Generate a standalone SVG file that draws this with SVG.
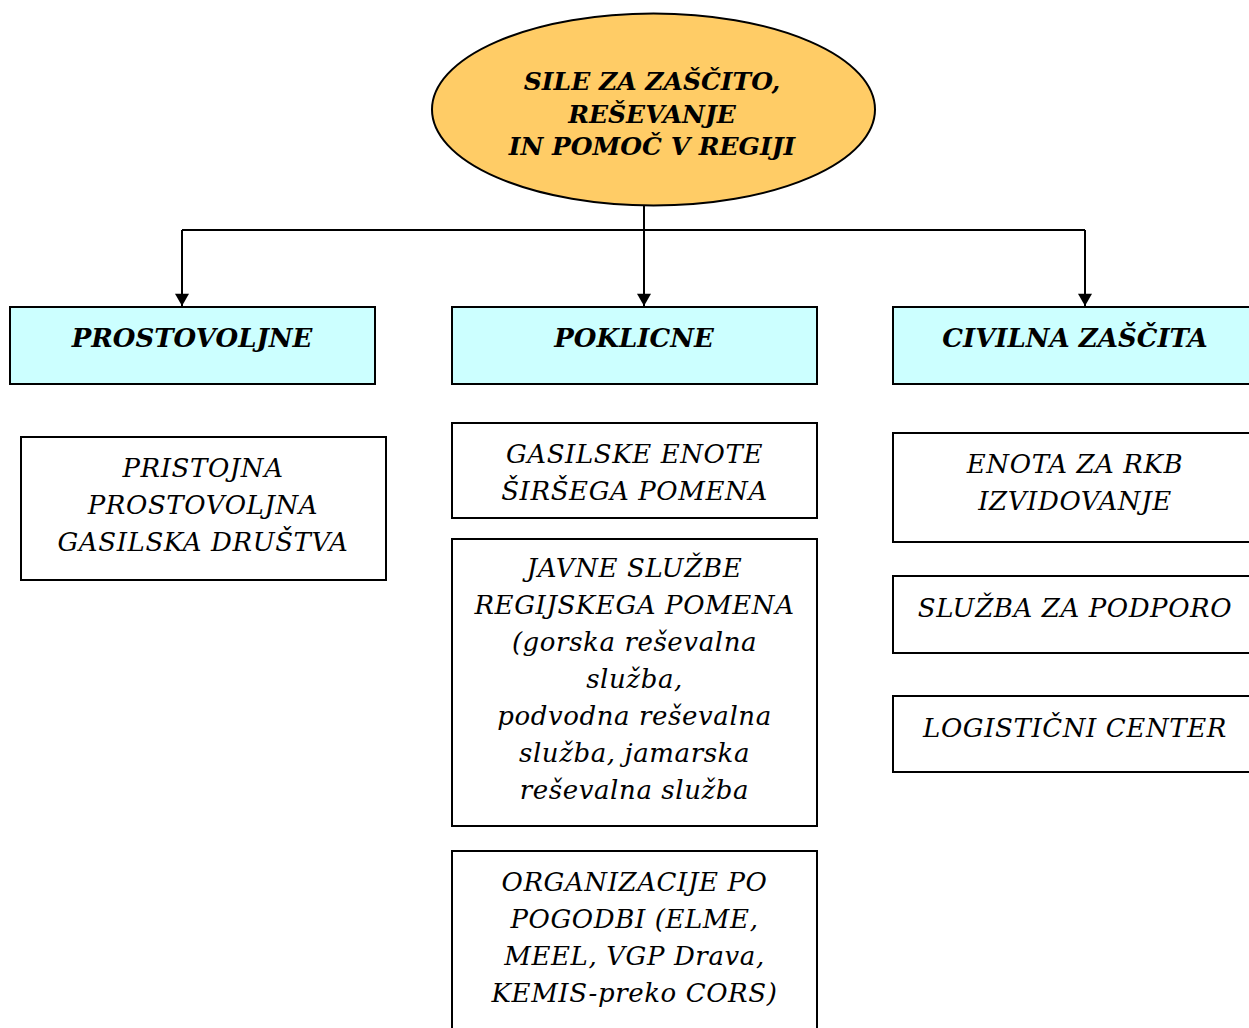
<svg xmlns="http://www.w3.org/2000/svg" width="1249" height="1028" viewBox="0 0 1249 1028">
<style>
.box{fill:#fff;stroke:#000;stroke-width:2}
.hdr{fill:#ccffff;stroke:#000;stroke-width:2}
text{font-family:"DejaVu Serif",serif;font-style:italic;font-size:26px;letter-spacing:0.6px;text-anchor:middle;fill:#000}
.b{font-weight:bold;font-size:26px;letter-spacing:0}
.e{font-size:25px}
.ln{fill:none;stroke:#000;stroke-width:2}
</style>
<defs>
<marker id="arr" viewBox="0 0 14 16" refX="14" refY="8" markerWidth="16" markerHeight="14" markerUnits="userSpaceOnUse" orient="auto">
<path d="M0,0 L14,8 L0,16 z" fill="#000"/>
</marker>
</defs>
<rect width="1249" height="1028" fill="#fff"/>
<g id="connectors">
<path class="ln" d="M644,206 V306" marker-end="url(#arr)"/>
<path class="ln" d="M182,230 H1085"/>
<path class="ln" d="M182,230 V306" marker-end="url(#arr)"/>
<path class="ln" d="M1085,230 V306" marker-end="url(#arr)"/>
</g>
<g id="root">
<ellipse cx="653.5" cy="109.5" rx="221.5" ry="96" fill="#ffcc66" stroke="#000" stroke-width="2"/>
<text class="b e" x="652" y="90">SILE ZA ZAŠČITO,</text>
<text class="b e" x="652" y="123">REŠEVANJE</text>
<text class="b e" x="652" y="155">IN POMOČ V REGIJI</text>
</g>
<g id="prostovoljne">
<rect class="hdr" x="10" y="307" width="365" height="77"/>
<text class="b" x="192" y="347">PROSTOVOLJNE</text>
</g>
<g id="poklicne">
<rect class="hdr" x="452" y="307" width="365" height="77"/>
<text class="b" x="634" y="347">POKLICNE</text>
</g>
<g id="civilna">
<rect class="hdr" x="893" y="307" width="365" height="77"/>
<text class="b" x="1075" y="347">CIVILNA ZAŠČITA</text>
</g>
<g id="pristojna">
<rect class="box" x="21" y="437" width="365" height="143"/>
<text x="203" y="477">PRISTOJNA</text>
<text x="203" y="514">PROSTOVOLJNA</text>
<text x="203" y="551">GASILSKA DRUŠTVA</text>
</g>
<g id="gasilske">
<rect class="box" x="452" y="423" width="365" height="95"/>
<text x="634.5" y="463">GASILSKE ENOTE</text>
<text x="634.5" y="500">ŠIRŠEGA POMENA</text>
</g>
<g id="javne">
<rect class="box" x="452" y="539" width="365" height="287"/>
<text x="634.5" y="577">JAVNE SLUŽBE</text>
<text x="634.5" y="614">REGIJSKEGA POMENA</text>
<text x="634.5" y="651">(gorska reševalna</text>
<text x="634.5" y="688">služba,</text>
<text x="634.5" y="725">podvodna reševalna</text>
<text x="634.5" y="762">služba, jamarska</text>
<text x="634.5" y="799">reševalna služba</text>
</g>
<g id="organizacije">
<rect class="box" x="452" y="851" width="365" height="190"/>
<text x="634.5" y="891">ORGANIZACIJE PO</text>
<text x="634.5" y="928">POGODBI (ELME,</text>
<text x="634.5" y="965">MEEL, VGP Drava,</text>
<text x="634.5" y="1002">KEMIS-preko CORS)</text>
</g>
<g id="enota">
<rect class="box" x="893" y="433" width="365" height="109"/>
<text x="1075" y="473">ENOTA ZA RKB</text>
<text x="1075" y="510">IZVIDOVANJE</text>
</g>
<g id="sluzba">
<rect class="box" x="893" y="576" width="365" height="77"/>
<text x="1075" y="617">SLUŽBA ZA PODPORO</text>
</g>
<g id="logisticni">
<rect class="box" x="893" y="696" width="365" height="76"/>
<text x="1075" y="737">LOGISTIČNI CENTER</text>
</g>
</svg>
